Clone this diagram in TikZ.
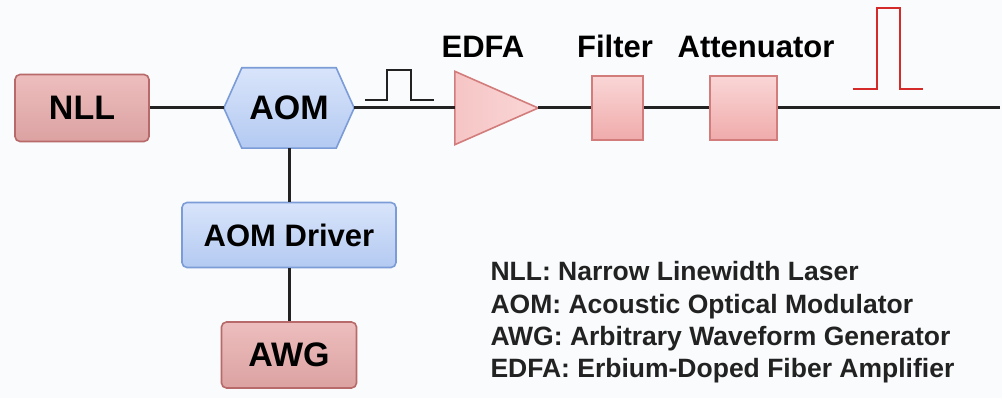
\documentclass[tikz,border=0pt]{standalone}
\usepackage{fontspec}
\setmainfont{Liberation Sans}
\definecolor{bg}{HTML}{F9FBFC}
\definecolor{pinkTop}{HTML}{EDBDBD}
\definecolor{pinkBot}{HTML}{DCA2A2}
\definecolor{pinkLine}{HTML}{B86A6A}
\definecolor{lpinkTop}{HTML}{FAD6D6}
\definecolor{lpinkBot}{HTML}{F0ABAB}
\definecolor{lpinkLine}{HTML}{D37C7C}
\definecolor{blueTop}{HTML}{D8E4FA}
\definecolor{blueBot}{HTML}{B4CAF2}
\definecolor{blueLine}{HTML}{7C9CD8}
\definecolor{wire}{HTML}{222222}
\definecolor{pulsered}{HTML}{D42A2A}
\begin{document}
\begin{tikzpicture}[x=1pt,y=-1pt,
  darkbox/.style={draw=pinkLine,line width=1.6pt,rounded corners=5pt,top color=pinkTop,bottom color=pinkBot,inner sep=0pt,font=\fontsize{34}{40}\selectfont\bfseries},
  bluebox/.style={draw=blueLine,line width=1.6pt,rounded corners=5pt,top color=blueTop,bottom color=blueBot,inner sep=0pt,font=\fontsize{31}{36}\selectfont\bfseries},
  lightbox/.style={draw=lpinkLine,line width=1.6pt,top color=lpinkTop,bottom color=lpinkBot,inner sep=0pt},
  frame/.style={inner sep=0pt,font=\fontsize{34}{40}\selectfont\bfseries},
  wirestyle/.style={draw=wire,line width=3pt},
  pulse/.style={line width=2.8pt},
  header/.style={anchor=base,font=\fontsize{31}{36}\selectfont\bfseries},
  legend/.style={anchor=base west,text=wire,font=\fontsize{26.5}{30}\selectfont\bfseries}
]
\fill[bg] (0,0) rectangle (1002,398);
\useasboundingbox (0,0) rectangle (1002,398);

% nodes
\node[darkbox,minimum width=134pt,minimum height=67pt] (NLL) at (82,108) {NLL};
\node[frame,minimum width=130pt,minimum height=80pt] (AOM) at (289,108) {};
\path[draw=blueLine,line width=1.6pt,top color=blueTop,bottom color=blueBot]
  (AOM.west) -- ([xshift=18pt]AOM.north west) -- ([xshift=-18pt]AOM.north east)
  -- (AOM.east) -- ([xshift=-18pt]AOM.south east) -- ([xshift=18pt]AOM.south west) -- cycle;
\node[frame] (AOMt) at (AOM.center) {AOM};
\node[bluebox,minimum width=214pt,minimum height=65pt] (DRV) at (289,235) {AOM Driver};
\node[darkbox,minimum width=135pt,minimum height=66pt] (AWG) at (289,355) {AWG};
\node[inner sep=0pt,minimum width=83pt,minimum height=73pt] (EDFA) at (496.5,108) {};
\path[draw=lpinkLine,line width=1.6pt,left color=lpinkTop!60!lpinkBot,right color=lpinkTop]
  (EDFA.north west) -- (EDFA.east) -- (EDFA.south west) -- cycle;
\node[lightbox,minimum width=51pt,minimum height=64pt] (FLT) at (617.5,108) {};
\node[lightbox,minimum width=67pt,minimum height=64pt] (ATT) at (743.5,108) {};
\coordinate (END) at (1000,108);

% headers
\node[header] (hEDFA) at (483,58) {EDFA};
\node[header] (hFLT) at (615,58) {Filter};
\node[header] (hATT) at (756,58) {Attenuator};

% wires
\draw[wirestyle] (NLL.east) -- (AOM.west);
\draw[wirestyle] (AOM.east) -- (EDFA.west);
\draw[wirestyle] (EDFA.east) -- (FLT.west);
\draw[wirestyle] (FLT.east) -- (ATT.west);
\draw[wirestyle] (ATT.east) -- (END);
\draw[wirestyle] (AOM.south) -- (DRV.north);
\draw[wirestyle] (DRV.south) -- (AWG.north);

% pulses
\draw[pulse,wire] (365,100) -- (387,100) -- (387,70) -- (411,70) -- (411,100) -- (434,100);
\draw[pulse,pulsered] (853,89) -- (877,89) -- (877,8) -- (900,8) -- (900,89) -- (923,89);

% legend
\node[legend] (L1) at (487,281) {NLL: Narrow Linewidth Laser};
\node[legend] (L2) at (487,313) {AOM: Acoustic Optical Modulator};
\node[legend] (L3) at (487,345) {AWG: Arbitrary Waveform Generator};
\node[legend] (L4) at (487,377) {EDFA: Erbium-Doped Fiber Amplifier};
\end{tikzpicture}
\end{document}
